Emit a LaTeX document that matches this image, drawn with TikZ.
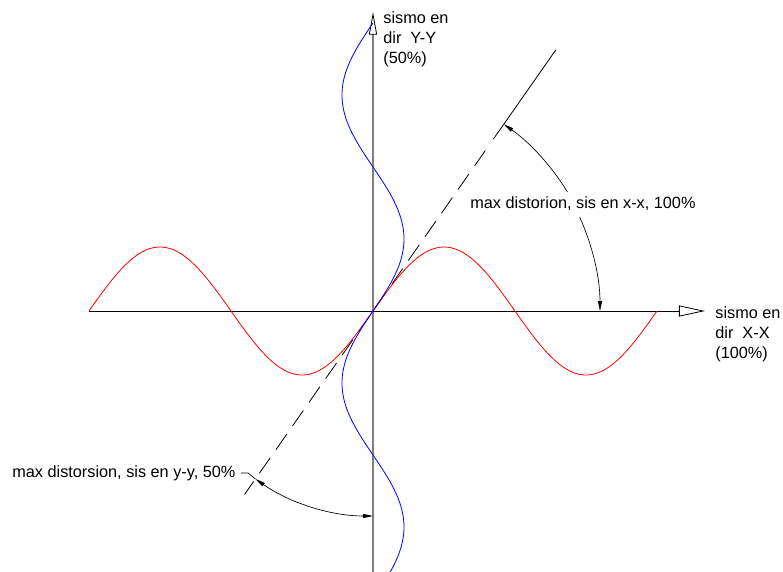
\documentclass[tikz,border=0pt]{standalone}
\usepackage{fontspec}
\setmainfont{Liberation Sans}
\usetikzlibrary{arrows.meta}

\begin{document}
\begin{tikzpicture}[x=0.75pt, y=0.75pt, line width=0.6pt,
  font=\fontsize{12.2}{15}\selectfont,
  lbl/.style={inner sep=0pt, align=left},
  dimline/.style={line width=0.5pt},
  dimtip/.tip={Triangle[length=7.5pt, width=3pt]}]
  \useasboundingbox (-373,-261) rectangle (410,311);
  \coordinate (O) at (0, 0);
  \coordinate (W) at (-284, 0);
  \coordinate (E) at (332, 0);
  \coordinate (S) at (0, -261);
  \coordinate (N) at (0, 299);
  \coordinate (L) at (235:224);
  \coordinate (M) at (55:196);
  \coordinate (K) at (55:210);
  \coordinate (U) at (55:319);

  \draw[gray, line width=1.5pt, -{Triangle[open, length=17pt, width=6pt, line width=0.6pt, color=black]}] (S) -- (N);
  \draw[black, -{Triangle[open, length=19.5pt, width=8.25pt, line width=0.6pt]}] (W) -- (E);

  \draw[dash pattern=on 14.25pt off 7.4pt, dash phase=2.25pt] (L) -- (M);
  \draw (K) -- (U);

  \draw[red] plot[domain=-284:284, samples=200, smooth] (\x, {64*sin(1.267606*\x)});
  \draw[blue] plot[domain=-261:288, samples=200, smooth] ({31*sin(1.25*\x)}, \x);

  \node[lbl, anchor=north west] (ty) at (10, 300) {sismo en\\dir~~Y-Y\\(50\%)};
  \node[lbl, anchor=north west] (tx) at (342, 5) {sismo en\\dir~~X-X\\(100\%)};
  \node[lbl, anchor=west] (tdx) at (97, 107) {max distorion, sis en x-x, 100\%};
  \node[lbl, anchor=west] (tdy) at (-361, -162) {max distorsion, sis en y-y, 50\%};

  \coordinate (P1) at (55:228);
  \coordinate (P2) at (24.4:227);
  \coordinate (Q1) at (235:205);
  \draw[dimline, dimtip-] (P1) arc[start angle=55, end angle=31.5, radius=228];
  \draw[dimline, -dimtip] (P2) arc[start angle=24.4, end angle=0, radius=227];
  \draw[dimline, dimtip-dimtip] (Q1) arc[start angle=235, end angle=270, radius=205];
  \draw[dimline] ([xshift=4pt]tdy.east) -- ++(7, 0) -- (Q1);
\end{tikzpicture}
\end{document}
